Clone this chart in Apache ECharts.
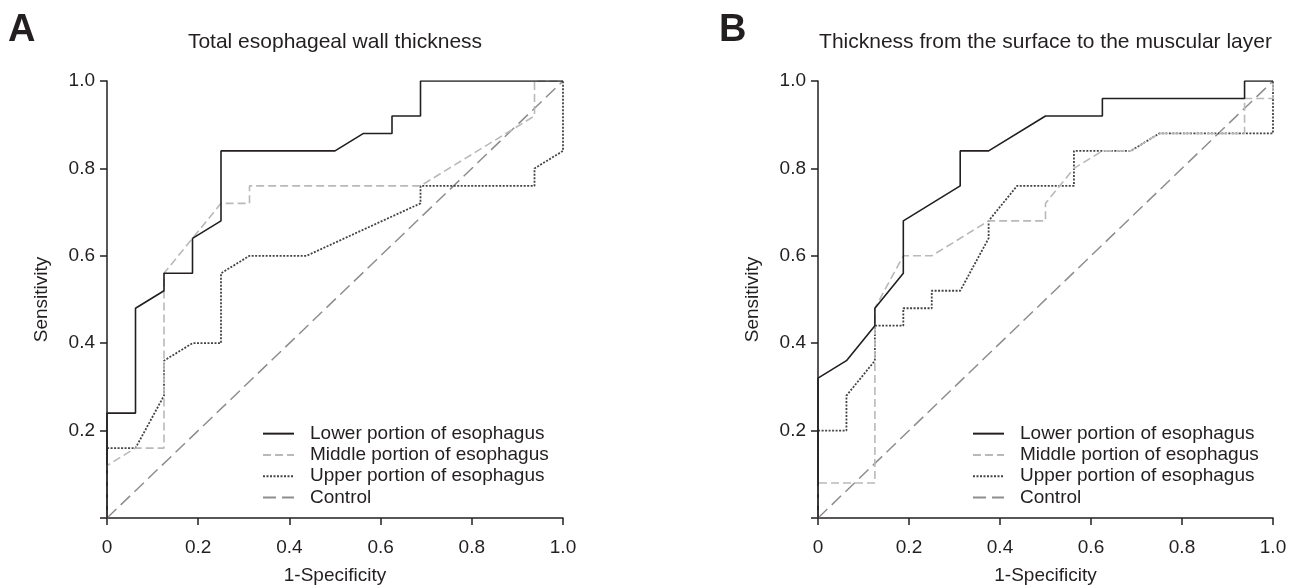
<!DOCTYPE html>
<html>
<head>
<meta charset="utf-8">
<script src="https://cdn.jsdelivr.net/npm/echarts@6/dist/echarts.min.js"></script>
<style>
html, body { margin: 0; padding: 0; background: #fff; }
#main { width: 1290px; height: 587px; }
</style>
</head>
<body>
<div id="main"></div>
<script>
// ROC 曲线数据：[1-Specificity, Sensitivity]
var seriesNames = ['Lower portion of esophagus', 'Middle portion of esophagus', 'Upper portion of esophagus', 'Control'];
var panelTitles = ['Total esophageal wall thickness', 'Thickness from the surface to the muscular layer'];
var panelLetters = ['A', 'B'];
var tickValues = [0, 0.2, 0.4, 0.6, 0.8, 1.0];

// A: Total esophageal wall thickness
var lowerA = [[0, 0], [0, 0.24], [0.0625, 0.24], [0.0625, 0.48], [0.125, 0.52], [0.125, 0.56], [0.1875, 0.56], [0.1875, 0.64], [0.25, 0.68], [0.25, 0.84], [0.5, 0.84], [0.5625, 0.88], [0.625, 0.88], [0.625, 0.92], [0.6875, 0.92], [0.6875, 1], [1, 1]];
var middleA = [[0, 0], [0, 0.12], [0.0625, 0.16], [0.125, 0.16], [0.125, 0.56], [0.25, 0.72], [0.3125, 0.72], [0.3125, 0.76], [0.6875, 0.76], [0.9375, 0.92], [0.9375, 1], [1, 1]];
var upperA = [[0, 0], [0, 0.16], [0.0625, 0.16], [0.125, 0.28], [0.125, 0.36], [0.1875, 0.40], [0.25, 0.40], [0.25, 0.56], [0.3125, 0.60], [0.4375, 0.60], [0.6875, 0.72], [0.6875, 0.76], [0.9375, 0.76], [0.9375, 0.80], [1, 0.84], [1, 1]];

// B: Thickness from the surface to the muscular layer
var lowerB = [[0, 0], [0, 0.32], [0.0625, 0.36], [0.125, 0.44], [0.125, 0.48], [0.1875, 0.56], [0.1875, 0.68], [0.3125, 0.76], [0.3125, 0.84], [0.375, 0.84], [0.5, 0.92], [0.625, 0.92], [0.625, 0.96], [0.9375, 0.96], [0.9375, 1], [1, 1]];
var middleB = [[0, 0], [0, 0.08], [0.125, 0.08], [0.125, 0.48], [0.1875, 0.60], [0.25, 0.60], [0.375, 0.68], [0.5, 0.68], [0.5, 0.72], [0.5625, 0.80], [0.625, 0.84], [0.6875, 0.84], [0.75, 0.88], [0.9375, 0.88], [0.9375, 0.96], [1, 0.96], [1, 1]];
var upperB = [[0, 0], [0, 0.20], [0.0625, 0.20], [0.0625, 0.28], [0.125, 0.36], [0.125, 0.44], [0.1875, 0.44], [0.1875, 0.48], [0.25, 0.48], [0.25, 0.52], [0.3125, 0.52], [0.375, 0.64], [0.375, 0.68], [0.4375, 0.76], [0.5625, 0.76], [0.5625, 0.84], [0.6875, 0.84], [0.75, 0.88], [1, 0.88], [1, 1]];

var controlLine = [[0, 0], [1, 1]];

(function () {
    var myChart = echarts.init(document.getElementById('main'));
    var font = '"Liberation Sans", Arial, Helvetica, sans-serif';
    var axisColor = '#231f20';

    var styles = [
        { color: '#231f20', width: 1.6, type: 'solid' },
        { color: '#b9b9b9', width: 1.6, type: [8, 4] },
        { color: '#444444', width: 1.8, type: [2, 1.5] },
        { color: '#8e8e8e', width: 1.5, type: [13, 6] }
    ];

    // v6 默认会收缩 grid 以容纳标签，这里关掉
    var grids = [
        { left: 107, top: 81, width: 456, height: 437, outerBoundsMode: 'none' },
        { left: 818, top: 81, width: 455, height: 437, outerBoundsMode: 'none' }
    ];

    function makeX(i) {
        return {
            type: 'value', gridIndex: i, min: 0, max: 1, interval: 0.2,
            name: '1-Specificity', nameLocation: 'middle', nameGap: 48,
            nameTextStyle: { fontSize: 19, color: axisColor, fontFamily: font },
            axisLine: { onZero: false, lineStyle: { color: axisColor, width: 1.5 } },
            axisTick: { show: true, length: 7, lineStyle: { color: axisColor, width: 1.5 } },
            axisLabel: {
                fontSize: 19, color: axisColor, fontFamily: font, margin: 20,
                formatter: function (v) { return v === 0 ? '0' : v.toFixed(1); }
            },
            splitLine: { show: false }
        };
    }

    function makeY(i) {
        return {
            type: 'value', gridIndex: i, min: 0, max: 1, interval: 0.2,
            name: 'Sensitivity', nameLocation: 'middle', nameGap: 56,
            nameTextStyle: { fontSize: 19, color: axisColor, fontFamily: font },
            axisLine: { show: true, onZero: false, lineStyle: { color: axisColor, width: 1.5 } },
            axisTick: { show: true, length: 7, lineStyle: { color: axisColor, width: 1.5 } },
            axisLabel: {
                fontSize: 19, color: axisColor, fontFamily: font, margin: 12,
                formatter: function (v) { return v === 0 ? '' : v.toFixed(1); }
            },
            splitLine: { show: false }
        };
    }

    var panelData = [[lowerA, middleA, upperA, controlLine], [lowerB, middleB, upperB, controlLine]];
    var series = [];
    panelData.forEach(function (list, p) {
        list.forEach(function (d, k) {
            series.push({
                name: seriesNames[k], type: 'line', xAxisIndex: p, yAxisIndex: p,
                data: d, symbol: 'none', showSymbol: false, silent: true,
                lineStyle: styles[k], itemStyle: { color: styles[k].color },
                z: 4 - k
            });
        });
    });

    var legends = [262, 972].map(function (x) {
        return {
            orient: 'vertical', left: x, top: 423, padding: 0,
            itemWidth: 31, itemHeight: 12, itemGap: 0,
            data: seriesNames,
            itemStyle: { opacity: 0, borderWidth: 0 },
            textStyle: { fontSize: 19, color: axisColor, fontFamily: font, lineHeight: 21.3, padding: [0, 0, 0, 11] },
            selectedMode: false
        };
    });

    var graphics = [];
    [0, 1].forEach(function (p) {
        var g = grids[p];
        graphics.push({
            type: 'text', left: 8 + p * 711, top: 12,
            style: { text: panelLetters[p], fontSize: 38, fontWeight: 'bold', fill: axisColor, fontFamily: '"Liberation Sans Narrow", "Liberation Sans", Arial, sans-serif' }
        });
        graphics.push({
            type: 'text', x: g.left + g.width / 2, y: 42,
            style: { text: panelTitles[p], fontSize: 21, fill: axisColor, fontFamily: font, align: 'center', verticalAlign: 'middle' }
        });
    });

    var option = {
        animation: false,
        backgroundColor: '#fff',
        grid: grids,
        xAxis: [makeX(0), makeX(1)],
        yAxis: [makeY(0), makeY(1)],
        legend: legends,
        graphic: graphics,
        series: series
    };
    myChart.setOption(option);
})();
</script>
</body>
</html>
